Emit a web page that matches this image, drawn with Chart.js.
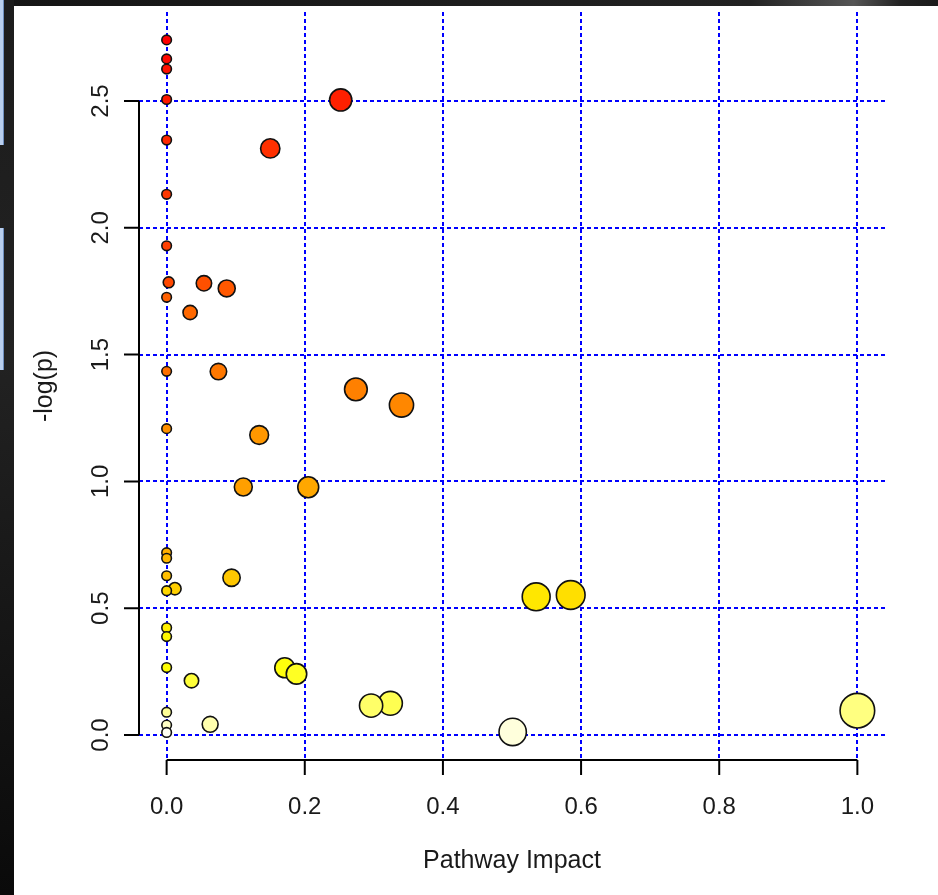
<!DOCTYPE html>
<html>
<head>
<meta charset="utf-8">
<title>Pathway Impact</title>
<script src="https://cdn.jsdelivr.net/npm/chart.js@4.4.1/dist/chart.umd.min.js"></script>
<style>
  html, body { margin: 0; padding: 0; background: #fff; }
  #wrap { position: relative; width: 938px; height: 895px; overflow: hidden; }
  #chart { position: absolute; left: 0; top: 0; }
  /* dark screenshot frame */
  .frameTop { position: absolute; left: 0; top: 0; width: 938px; height: 6px;
    background: linear-gradient(90deg, #151515 0%, #222 80%, #555 91%, #222 96%, #1a1a1a 100%); }
  .frameLeft { position: absolute; left: 0; top: 0; width: 14px; height: 895px;
    background: linear-gradient(180deg, #1c1c1c 0%, #222 40%, #0a0a0a 100%); }
  .sideBar { position: absolute; left: 0; width: 3px; background: #b9cfee; border-right: 1px solid #6f8fbf; }
</style>
</head>
<body>
<div id="wrap">
  <canvas id="chart" width="938" height="895"></canvas>
  <div class="frameTop"></div>
  <div class="frameLeft"></div>
  <div class="sideBar" style="top:0;height:145px"></div>
  <div class="sideBar" style="top:228px;height:142px"></div>
</div>
<script>
// pathways, ordered by -log(p) (highest first), as in the result table
const impact = [0, 0, 0, 0, 0.252, 0, 0.150, 0, 0, 0.003,
                0.054, 0.087, 0, 0.034, 0, 0.075, 0.274, 0.340, 0, 0.134,
                0.111, 0.205, 0, 0, 0, 0.094, 0.012, 0, 0.585, 0.535,
                0, 0, 0, 0.171, 0.188, 0.036, 0.324, 0.296, 1.0, 0,
                0.063, 0, 0.501, 0];
const negLogP = [2.741, 2.666, 2.626, 2.506, 2.504, 2.346, 2.313, 2.132, 1.929, 1.785,
                 1.781, 1.761, 1.726, 1.666, 1.434, 1.433, 1.363, 1.301, 1.208, 1.183,
                 0.978, 0.977, 0.719, 0.697, 0.628, 0.620, 0.577, 0.569, 0.552, 0.545,
                 0.423, 0.388, 0.266, 0.265, 0.241, 0.214, 0.125, 0.116, 0.096, 0.090,
                 0.042, 0.039, 0.012, 0.010];

const xTicks = [0, 0.2, 0.4, 0.6, 0.8, 1.0];
const yTicks = [0, 0.5, 1.0, 1.5, 2.0, 2.5];
const xTickLabels = ['0.0', '0.2', '0.4', '0.6', '0.8', '1.0'];
const yTickLabels = ['0.0', '0.5', '1.0', '1.5', '2.0', '2.5'];

const FONT = '"Liberation Sans", Arial, Helvetica, sans-serif';
const TEXT = '#1a1a1a';

// R's heat.colors(n)
function heatColors(n) {
  const j = Math.floor(n / 4), i = n - j;
  const out = [];
  for (let k = 0; k < i; k++) {
    const h = i > 1 ? k / (i - 1) : 0;          // 0..1 maps hue 0..1/6
    out.push(`rgb(255,${Math.round(255 * h)},0)`);
  }
  for (let k = 0; k < j; k++) {
    const from = 1 - 1 / (2 * j), to = 1 / (2 * j);
    const s = j > 1 ? from + (to - from) * k / (j - 1) : from;
    out.push(`rgb(255,255,${Math.round(255 * (1 - s))})`);
  }
  return out;
}

const points = impact.map((x, i) => ({ x, y: negLogP[i] }));
const colors = heatColors(points.length);
const radii = impact.map(v => 4.8 + 12.5 * Math.sqrt(v));

// R-style detached axes, y tick labels and y title
const rAxes = {
  id: 'rAxes',
  afterDraw(chart) {
    const { ctx, chartArea } = chart;
    const xs = chart.scales.x, ys = chart.scales.y;
    ctx.save();
    ctx.strokeStyle = '#000';
    ctx.lineWidth = 2;
    // x axis
    const xl = xs.getPixelForValue(xTicks[0]), xr = xs.getPixelForValue(xTicks[xTicks.length - 1]);
    const ay = chartArea.bottom;
    ctx.beginPath();
    ctx.moveTo(xl, ay); ctx.lineTo(xr, ay);
    xTicks.forEach(v => {
      const p = xs.getPixelForValue(v);
      ctx.moveTo(p, ay); ctx.lineTo(p, ay + 15);
    });
    ctx.stroke();
    // y axis
    const yb = ys.getPixelForValue(yTicks[0]), yt = ys.getPixelForValue(yTicks[yTicks.length - 1]);
    const ax = chartArea.left;
    ctx.beginPath();
    ctx.moveTo(ax, yb); ctx.lineTo(ax, yt);
    yTicks.forEach(v => {
      const p = ys.getPixelForValue(v);
      ctx.moveTo(ax, p); ctx.lineTo(ax - 15, p);
    });
    ctx.stroke();
    // y tick labels, parallel to the axis
    ctx.fillStyle = TEXT;
    ctx.font = `24px ${FONT}`;
    ctx.textAlign = 'center';
    ctx.textBaseline = 'middle';
    yTicks.forEach((v, i) => {
      ctx.save();
      ctx.translate(101, ys.getPixelForValue(v));
      ctx.rotate(-Math.PI / 2);
      ctx.fillText(yTickLabels[i], 0, 0);
      ctx.restore();
    });
    // y title
    ctx.font = `25px ${FONT}`;
    ctx.save();
    ctx.translate(45, (chartArea.top + chartArea.bottom) / 2);
    ctx.rotate(-Math.PI / 2);
    ctx.fillText('-log(p)', 0, 0);
    ctx.restore();
    ctx.restore();
  }
};

const gridStyle = {
  color: '#0000ff',
  lineWidth: 2,
  drawTicks: false
};

new Chart(document.getElementById('chart'), {
  type: 'scatter',
  data: {
    datasets: [{
      data: points,
      backgroundColor: colors,
      borderColor: '#111',
      borderWidth: 1.6,
      pointRadius: radii,
      pointHoverRadius: radii
    }]
  },
  options: {
    responsive: false,
    animation: false,
    events: [],
    layout: { autoPadding: false, padding: { top: 12, right: 53, left: 0, bottom: 0 } },
    plugins: { legend: { display: false }, tooltip: { enabled: false } },
    scales: {
      x: {
        type: 'linear',
        min: -0.04,
        max: 1.04,
        afterBuildTicks: s => { s.ticks = xTicks.map(v => ({ value: v })); },
        afterFit: s => { s.height = 135; },
        grid: gridStyle,
        border: { display: false, dash: [4, 3] },
        ticks: {
          padding: 33,
          color: TEXT,
          font: { family: FONT, size: 24 },
          callback: (v) => xTickLabels[xTicks.indexOf(v)] ?? ''
        },
        title: {
          display: true,
          text: 'Pathway Impact',
          color: TEXT,
          font: { family: FONT, size: 25 },
          padding: { top: 0, bottom: 19 }
        }
      },
      y: {
        type: 'linear',
        min: -0.0986,
        max: 2.851,
        afterBuildTicks: s => { s.ticks = yTicks.map(v => ({ value: v })); },
        afterFit: s => { s.width = 139; },
        grid: gridStyle,
        border: { display: false, dash: [4, 3] },
        ticks: { display: false }
      }
    }
  },
  plugins: [rAxes]
});
</script>
</body>
</html>
